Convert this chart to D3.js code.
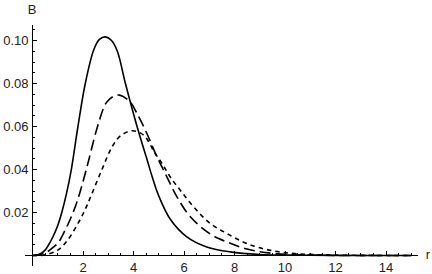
<!DOCTYPE html>
<html>
<head>
<meta charset="utf-8">
<script src="https://cdn.jsdelivr.net/npm/d3@7"></script>
<style>
  body { margin: 0; background: #fff; }
  text { font-family: "Liberation Sans", Arial, sans-serif; }
</style>
</head>
<body>
<svg id="chart" width="432" height="274"></svg>
<script>
"use strict";

// valeurs
var solidR = [0, 0.25, 0.5, 0.64, 0.8, 1.0, 1.17, 1.35, 1.53, 1.8, 2.09, 2.42, 2.65, 2.89, 3.13, 3.36, 3.68, 4.14, 4.5, 4.73, 4.99, 5.45, 6.11, 6.9, 7.83, 9.0, 10.0, 12.0, 15.0];
var solidB = [0, 0.0004, 0.0025, 0.0050, 0.0085, 0.0140, 0.0205, 0.0290, 0.0395, 0.0600, 0.0800, 0.0955, 0.1005, 0.1017, 0.1000, 0.0950, 0.0800, 0.0600, 0.0460, 0.0370, 0.0280, 0.0170, 0.0087, 0.0040, 0.0017, 0.0005, 0.0002, 0.0, 0.0];

var longR = [0, 0.5, 0.84, 1.04, 1.3, 1.5, 1.75, 2.13, 2.55, 2.89, 3.05, 3.2, 3.45, 3.87, 4.14, 4.47, 4.93, 5.32, 5.72, 6.25, 7.04, 7.7, 8.5, 9.5, 11.0, 15.0];
var longB = [0, 0.0012, 0.0040, 0.0063, 0.0120, 0.0170, 0.0245, 0.0400, 0.0590, 0.0705, 0.0727, 0.0740, 0.0746, 0.0714, 0.0660, 0.0583, 0.0459, 0.0366, 0.0273, 0.0180, 0.0100, 0.0063, 0.0030, 0.0010, 0.0002, 0.0];

var shortR = [0, 0.5, 1.0, 1.37, 1.83, 2.09, 2.29, 2.75, 3.15, 3.5, 3.94, 4.4, 4.86, 5.13, 5.45, 5.85, 6.38, 7.04, 7.7, 8.5, 9.5, 10.5, 12.0, 15.0];
var shortB = [0, 0.0003, 0.0025, 0.0068, 0.0155, 0.0215, 0.0270, 0.0400, 0.0505, 0.0558, 0.0580, 0.0560, 0.0474, 0.0428, 0.0366, 0.0304, 0.0226, 0.0149, 0.0102, 0.0055, 0.0022, 0.0008, 0.0002, 0.0];

var xTicks = [2, 4, 6, 8, 10, 12, 14];
var xTickLabels = ["2", "4", "6", "8", "10", "12", "14"];
var yTicks = [0.02, 0.04, 0.06, 0.08, 0.10];
var yTickLabels = ["0.02", "0.04", "0.06", "0.08", "0.10"];

var svg = d3.select("#chart");

var x = d3.scaleLinear().domain([0, 15]).range([32.5, 411.3]);
var y = d3.scaleLinear().domain([0, 0.1]).range([255.5, 40.5]);

// axes
var axes = svg.append("g")
  .attr("stroke", "#000")
  .attr("stroke-width", 1)
  .attr("shape-rendering", "crispEdges");

axes.append("line")
  .attr("x1", x(-0.3)).attr("x2", x(15.25))
  .attr("y1", y(0)).attr("y2", y(0));

axes.append("line")
  .attr("x1", x(0)).attr("x2", x(0))
  .attr("y1", y(-0.005)).attr("y2", y(0.107));

// petites graduations
var xMinor = d3.range(0.5, 15.01, 0.5).filter(function(d){ return d % 2 != 0 });
axes.selectAll(".xMinor")
  .data(xMinor)
  .enter().append("line")
  .attr("x1", function(d){ return x(d) }).attr("x2", function(d){ return x(d) })
  .attr("y1", y(0)).attr("y2", y(0) - 2.5);

axes.selectAll(".xMajor")
  .data(xTicks)
  .enter().append("line")
  .attr("x1", function(d){ return x(d) }).attr("x2", function(d){ return x(d) })
  .attr("y1", y(0)).attr("y2", y(0) - 4.5);

var yMinor = d3.range(1, 22).map(function(i){ return i * 0.005 }).filter(function(d){ return Math.round(d * 1000) % 20 != 0 });
axes.selectAll(".yMinor")
  .data(yMinor)
  .enter().append("line")
  .attr("x1", x(0)).attr("x2", x(0) + 2.5)
  .attr("y1", function(d){ return y(d) }).attr("y2", function(d){ return y(d) });

axes.selectAll(".yMajor")
  .data(yTicks)
  .enter().append("line")
  .attr("x1", x(0)).attr("x2", x(0) + 4.5)
  .attr("y1", function(d){ return y(d) }).attr("y2", function(d){ return y(d) });

// étiquettes
svg.selectAll(".xLabel")
  .data(xTicks)
  .enter().append("text")
  .attr("x", function(d){ return x(d) })
  .attr("y", 272)
  .attr("text-anchor", "middle")
  .attr("font-size", "13px")
  .attr("fill", "#222")
  .text(function(d, i){ return xTickLabels[i] });

svg.selectAll(".yLabel")
  .data(yTicks)
  .enter().append("text")
  .attr("x", 28.5)
  .attr("y", function(d){ return y(d) + 4.5 })
  .attr("text-anchor", "end")
  .attr("font-size", "13px")
  .attr("fill", "#222")
  .text(function(d, i){ return yTickLabels[i] });

svg.append("text")
  .attr("x", 32).attr("y", 14)
  .attr("text-anchor", "middle")
  .attr("font-size", "13px")
  .attr("fill", "#222")
  .text("B");

svg.append("text")
  .attr("x", 428).attr("y", 259)
  .attr("text-anchor", "middle")
  .attr("font-size", "13px")
  .attr("fill", "#222")
  .text("r");

// courbes
var line = d3.line()
  .x(function(d){ return x(d[0]) })
  .y(function(d){ return y(d[1]) })
  .curve(d3.curveCatmullRom.alpha(0.5));

var series = [
  { r: solidR, b: solidB, dash: null },
  { r: longR, b: longB, dash: "11,5" },
  { r: shortR, b: shortB, dash: "4.5,4" }
];

svg.selectAll(".curve")
  .data(series)
  .enter().append("path")
  .attr("class", "curve")
  .attr("fill", "none")
  .attr("stroke", "#000")
  .attr("stroke-width", 1.6)
  .attr("stroke-dasharray", function(d){ return d.dash })
  .attr("d", function(d){ return line(d.r.map(function(v, i){ return [v, d.b[i]] })) });
</script>
</body>
</html>
